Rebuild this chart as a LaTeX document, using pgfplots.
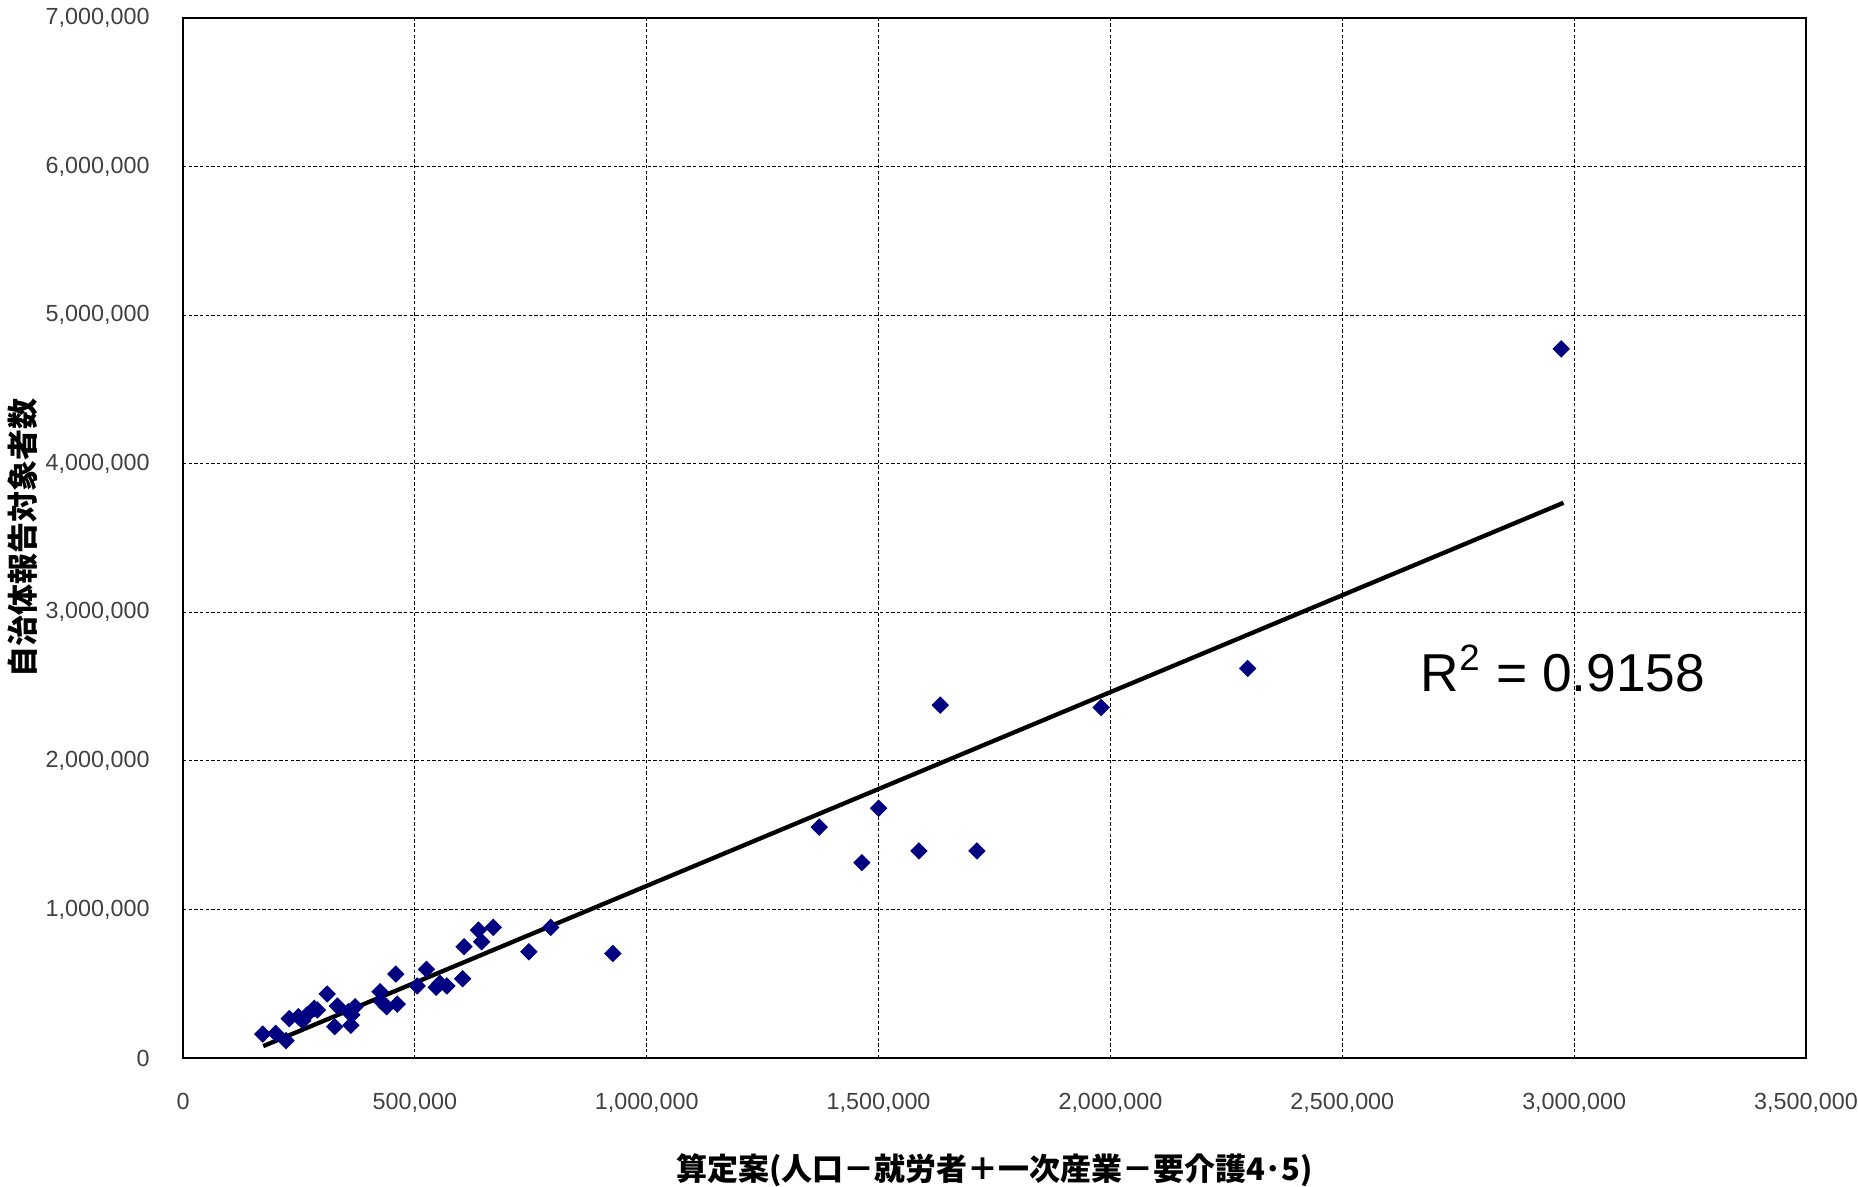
\documentclass[border=0pt]{standalone}
\usepackage{pgfplots}
\pgfplotsset{compat=1.18}
\usepackage{fontspec}
\setmainfont{Liberation Sans}
\newfontfamily\cjk{Noto Sans CJK JP}
\definecolor{navy}{RGB}{0,0,128}
\begin{document}
\begin{tikzpicture}
\begin{axis}[
  name=ax,
  scale only axis,
  width=486.9pt, height=312pt,
  xmin=0, xmax=3500000, ymin=0, ymax=7000000,
  xtick={0,500000,1000000,1500000,2000000,2500000,3000000,3500000},
  ytick={0,1000000,2000000,3000000,4000000,5000000,6000000,7000000},
  scaled ticks=false,
  /pgf/number format/.cd, fixed, 1000 sep={,}, assume math mode=true,
  /pgfplots/.cd,
  tick label style={font=\fontsize{7}{8}\selectfont, text=black!75},
  xticklabel style={yshift=-7pt},
  yticklabel style={xshift=-6.5pt},
  major tick length=0pt,
  grid=major,
  grid style={black, dash pattern=on 1pt off 0.7pt, line width=0.35pt},
  axis line style={black, line width=0.7pt},
  xlabel={\cjk\bfseries 算定案(人口－就労者＋一次産業－要介護4･5)},
  ylabel={\cjk\bfseries 自治体報告対象者数},
  label style={font=\fontsize{9.3}{10}\selectfont},
  xlabel style={at={(0.5,0)}, anchor=center, yshift=-33.6pt},
  ylabel style={at={(0,0.5)}, anchor=center, yshift=48pt},
  clip=false,
]
\addplot[only marks, mark=square*, mark size=1.65pt, mark options={rotate=45}, color=navy] coordinates {
(172000,161000) (200000,166000) (222000,117000) (229000,265000) (249000,278000)
(258000,251000) (267000,289000) (283000,334000) (290000,323000) (311000,431000)
(327000,211000) (333000,350000) (362000,220000) (357000,312000) (371000,345000)
(364000,290000) (425000,446000) (428000,379000) (439000,345000) (459000,565000)
(462000,363000) (505000,485000) (525000,597000) (546000,476000) (554000,503000)
(569000,485000) (603000,534000) (606000,749000) (637000,861000) (644000,783000)
(669000,879000) (746000,715000) (793000,879000) (927000,704000)
(1372000,1554000) (1464000,1315000) (1500000,1681000) (1587000,1394000)
(1633000,2375000) (1712000,1394000) (1980000,2359000) (2296000,2622000)
(2972000,4773000)
};
\addplot[black, line width=1.3pt] coordinates {(173000,80000) (2977000,3737000)};
\node[anchor=center, font=\fontsize{16}{18}\selectfont] at (axis cs:2976000,2620000) {R\textsuperscript{\fontsize{11}{12}\selectfont 2} = 0.9158};
\end{axis}
\pgfresetboundingbox
\path ([shift={(-54.9pt,-38.4pt)}]ax.south west) rectangle ([shift={(15.6pt,5.4pt)}]ax.north east);
\end{tikzpicture}
\end{document}
